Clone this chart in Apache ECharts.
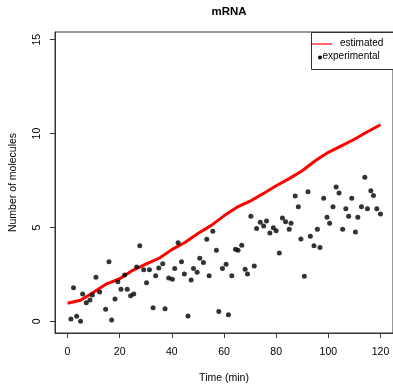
<!DOCTYPE html>
<html>
<head>
<meta charset="utf-8">
<script src="https://cdn.jsdelivr.net/npm/echarts@6/dist/echarts.min.js"></script>
<style>
  html, body { margin: 0; padding: 0; background: #fff; }
  #chart { width: 393px; height: 391px; }
</style>
</head>
<body>
<div id="chart"></div>
<script>
// estimated curve (red line)
const estTime = [0, 5, 10, 15, 20, 25, 30, 35, 40, 45, 50, 55, 60, 65, 70, 75, 80, 85, 90, 95, 100, 105, 110, 115, 120];
const estValues = [0.96, 1.12, 1.55, 2.0, 2.27, 2.72, 3.05, 3.35, 3.82, 4.2, 4.68, 5.1, 5.62, 6.08, 6.4, 6.8, 7.22, 7.6, 8.02, 8.55, 9.0, 9.35, 9.7, 10.1, 10.47];

// experimental measurements (black dots)
const expTime = [1.3, 2.3, 3.5, 5.0, 5.8, 7.2, 8.6, 9.5, 10.9, 12.3, 14.6, 15.9, 16.9, 18.2, 19.3, 20.5, 21.9, 22.9, 24.2, 25.4,
  26.5, 27.7, 29.2, 30.3, 31.4, 32.8, 33.8, 35.0, 36.5, 37.4, 38.8, 40.2, 41.1, 42.4, 43.7, 44.8, 46.2, 47.4, 48.3, 49.7,
  50.7, 52.1, 53.4, 54.3, 55.7, 57.1, 58.0, 59.4, 60.8, 61.7, 63.0, 64.4, 65.4, 66.8, 68.1, 69.0, 70.3, 71.6, 72.5, 73.9,
  75.2, 76.3, 77.6, 78.9, 80.0, 81.2, 82.4, 83.6, 85.0, 85.7, 87.3, 88.5, 89.5, 90.8, 92.2, 93.1, 94.5, 95.8, 96.8, 98.2,
  99.5, 100.5, 101.8, 103.0, 104.1, 105.5, 106.7, 107.8, 109.0, 110.4, 111.3, 112.7, 114.0, 115.0, 116.3, 117.3, 118.6, 120.0];
const expValues = [0.12, 1.79, 0.27, 0.0, 1.46, 0.99, 1.14, 1.40, 2.35, 1.56, 0.64, 3.18, 0.07, 1.19, 2.11, 1.71, 2.47, 1.71, 1.37, 1.46,
  2.9, 4.02, 2.75, 2.06, 2.75, 0.73, 2.43, 2.84, 3.07, 0.67, 2.31, 2.24, 2.81, 4.19, 3.18, 2.52, 0.28, 2.20, 2.81, 2.61,
  3.36, 3.13, 4.37, 2.43, 4.8, 3.79, 0.53, 2.81, 3.04, 0.35, 2.43, 3.84, 3.79, 4.05, 2.77, 2.52, 5.6, 2.95, 4.94, 5.28,
  5.08, 5.35, 4.71, 4.99, 4.83, 3.64, 5.51, 5.31, 4.9, 5.23, 6.67, 6.1, 4.39, 2.4, 6.9, 4.53, 4.03, 4.9, 3.93, 6.56,
  5.55, 5.23, 6.1, 7.16, 6.84, 4.9, 6.0, 5.6, 6.56, 4.76, 5.55, 6.1, 7.68, 6.0, 6.95, 6.7, 6.0, 5.72];

const xTicks = [0, 20, 40, 60, 80, 100, 120];
const yTicks = [0, 5, 10, 15];

const font = 'Liberation Sans, Arial, sans-serif';
const ink = '#333';

const myChart = echarts.init(document.getElementById('chart'));
const option = {
  animation: false,
  backgroundColor: '#fff',
  textStyle: { fontFamily: font },
  title: {
    text: 'mRNA',
    left: 224,
    textAlign: 'center',
    top: 1,
    textStyle: { fontFamily: font, fontSize: 11.5, fontWeight: 'bold', color: '#000' }
  },
  grid: {
    left: 54, top: 32, width: 340, height: 301,
    show: true, borderColor: ink, borderWidth: 1, backgroundColor: 'transparent'
  },
  xAxis: {
    type: 'value',
    min: -4.8, max: 124.8,
    name: 'Time (min)',
    nameLocation: 'middle',
    nameGap: 40,
    nameTextStyle: { fontFamily: font, fontSize: 10.5, color: '#000' },
    axisLine: { show: true, onZero: false, lineStyle: { color: ink, width: 1 } },
    axisTick: { show: true, inside: false, length: 5, customValues: xTicks, lineStyle: { color: ink, width: 1 } },
    axisLabel: { customValues: xTicks, margin: 14, fontFamily: font, fontSize: 10.5, color: '#000' },
    splitLine: { show: false }
  },
  yAxis: {
    type: 'value',
    min: -0.62, max: 15.41,
    name: 'Number of molecules',
    nameLocation: 'middle',
    nameGap: 36,
    nameTextStyle: { fontFamily: font, fontSize: 10.5, color: '#000' },
    axisLine: { show: true, onZero: false, lineStyle: { color: ink, width: 1 } },
    axisTick: { show: true, inside: false, length: 5, customValues: yTicks, lineStyle: { color: ink, width: 1 } },
    axisLabel: { customValues: yTicks, rotate: 90, margin: 12, fontFamily: font, fontSize: 10.5, color: '#000' },
    splitLine: { show: false }
  },
  series: [
    {
      name: 'estimated',
      type: 'line',
      data: estTime.map((t, i) => [t, estValues[i]]),
      showSymbol: false,
      smooth: false,
      lineStyle: { color: '#ff0000', width: 3 },
      z: 3
    },
    {
      name: 'experimental',
      type: 'scatter',
      data: expTime.map((t, i) => [t, expValues[i]]),
      symbol: 'circle',
      symbolSize: 5,
      itemStyle: { color: '#000' },
      z: 4
    }
  ],
  // legend box drawn like the R one
  graphic: [
    { type: 'rect', left: 311, top: 32, shape: { width: 100, height: 37 }, style: { fill: '#fff', stroke: ink, lineWidth: 1 }, z: 10 },
    { type: 'line', shape: { x1: 312, y1: 44, x2: 332, y2: 44 }, style: { stroke: '#ff0000', lineWidth: 1.2 }, z: 11 },
    { type: 'text', left: 340, top: 38, style: { text: 'estimated', font: '10px ' + font, fill: '#000' }, z: 11 },
    { type: 'circle', shape: { cx: 320, cy: 57.5, r: 2 }, style: { fill: '#000' }, z: 11 },
    { type: 'text', left: 322.5, top: 51.5, style: { text: 'experimental', font: '10px ' + font, fill: '#000' }, z: 11 }
  ]
};
myChart.setOption(option);
</script>
</body>
</html>
